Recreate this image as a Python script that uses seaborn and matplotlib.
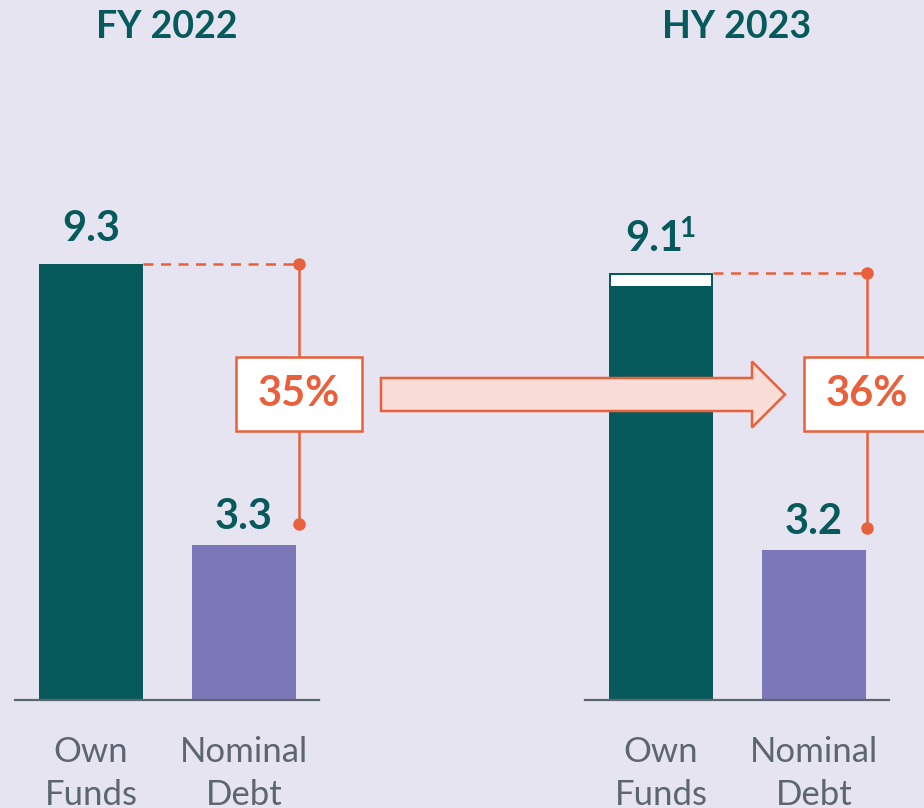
import matplotlib
matplotlib.use("Agg")
import matplotlib.pyplot as plt
from matplotlib.patches import Rectangle, FancyArrow
import seaborn as sns
import pandas as pd

# ---- data ----
periods = ["FY 2022", "HY 2023"]
categories = ["Own\nFunds", "Nominal\nDebt"]
own_funds = [9.3, 9.1]
nominal_debt = [3.3, 3.2]
own_funds_labels = ["9.3", "9.1"]
own_funds_footnotes = ["", "1"]
debt_labels = ["3.3", "3.2"]
ratio_labels = ["35%", "36%"]
hy_top_segment = 0.24  # white segment at the top of HY 2023 own funds

# ---- style ----
BG = "#E6E4F0"
TEAL = "#065A5C"
PURPLE = "#7B77B8"
ORANGE = "#E8603C"
GREY = "#5C6670"
ARROW_FILL = "#FADDD7"

sns.set_theme(style="white")
plt.rcParams["font.family"] = ["Lato", "DejaVu Sans"]

W, H = 924, 808
fig = plt.figure(figsize=(W / 100, H / 100), dpi=100, facecolor=BG)

px_per_unit_x = 153.0
px_per_unit_y = 46.88
base_y = 700
ymax = 14

panel_left_px = [15, 585]
panel_width_px = 304
bar_w = 104 / px_per_unit_x

for i, period in enumerate(periods):
    left = panel_left_px[i]
    ax = fig.add_axes([left / W, (H - base_y) / H, panel_width_px / W,
                       ymax * px_per_unit_y / H])
    ax.set_facecolor(BG)
    df = pd.DataFrame({"cat": categories,
                       "val": [own_funds[i], nominal_debt[i]]})
    sns.barplot(data=df, x="cat", y="val", hue="cat",
                palette=[TEAL, PURPLE], width=bar_w, ax=ax,
                legend=False, saturation=1, linewidth=0)
    ax.set_xlim(-76 / px_per_unit_x, -76 / px_per_unit_x + panel_width_px / px_per_unit_x)
    ax.set_ylim(0, ymax)
    for s in ["top", "right", "left"]:
        ax.spines[s].set_visible(False)
    ax.spines["bottom"].set_color(GREY)
    ax.spines["bottom"].set_linewidth(1.6)
    ax.set_yticks([])
    ax.set_xlabel("")
    ax.set_ylabel("")
    ax.tick_params(axis="x", length=0, pad=26, labelsize=25, labelcolor=GREY)
    for t in ax.get_xticklabels():
        t.set_linespacing(1.42)

    if i == 1:
        ax.bar(0, hy_top_segment, bottom=own_funds[i] - hy_top_segment - 0.03,
               width=(104 - 4) / px_per_unit_x, color="white", linewidth=0, zorder=3)

    # value labels
    if own_funds_footnotes[i]:
        ax.annotate(own_funds_labels[i], (0, own_funds[i] + 0.74),
                    xytext=(-5, 0), textcoords="offset points",
                    ha="center", va="center", fontsize=30,
                    fontweight="bold", color=TEAL)
        ax.annotate(own_funds_footnotes[i], (0, own_funds[i] + 0.74),
                    xytext=(19, 7), textcoords="offset points",
                    ha="center", va="center", fontsize=20,
                    fontweight="bold", color=TEAL)
    else:
        ax.text(0, own_funds[i] + 0.74, own_funds_labels[i], ha="center", va="center",
                fontsize=30, fontweight="bold", color=TEAL)
    ax.text(1, nominal_debt[i] + 0.6, debt_labels[i], ha="center", va="center",
            fontsize=30, fontweight="bold", color=TEAL)

    # connector
    xd = 1.36 if i == 0 else 1.347
    y_low = nominal_debt[i] + 0.46
    ax.plot([bar_w / 2, xd], [own_funds[i], own_funds[i]], ls=(0, (4, 3)),
            color=ORANGE, lw=1.8, clip_on=False, zorder=4)
    ax.plot([xd, xd], [y_low, own_funds[i]], color=ORANGE, lw=1.8,
            clip_on=False, zorder=4)
    ax.plot([xd, xd], [own_funds[i], y_low], "o", color=ORANGE, ms=8,
            clip_on=False, zorder=5)

    # ratio box
    bw, bh = 126 / px_per_unit_x, 74 / px_per_unit_y
    by = 6.53
    ax.add_patch(Rectangle((xd - bw / 2, by - bh / 2), bw, bh, facecolor="white",
                           edgecolor=ORANGE, lw=1.8, clip_on=False, zorder=6))
    ax.text(xd, by, ratio_labels[i], ha="center", va="center", fontsize=30,
            fontweight="bold", color=ORANGE, zorder=7, clip_on=False)

    fig.text((left + 152) / W, 1 - 27 / H, period, ha="center", va="center",
             fontsize=27, fontweight="bold", color=TEAL)

# overlay for the arrow
ov = fig.add_axes([0, 0, 1, 1])
ov.set_xlim(0, W)
ov.set_ylim(H, 0)
ov.axis("off")
ov.patch.set_alpha(0)
ov.add_patch(FancyArrow(381, 394.5, 404, 0, width=33, head_width=66,
                        head_length=33, length_includes_head=True,
                        facecolor=ARROW_FILL, edgecolor=ORANGE, lw=1.8, zorder=5))

fig.savefig("out.png", dpi=100, facecolor=BG)
